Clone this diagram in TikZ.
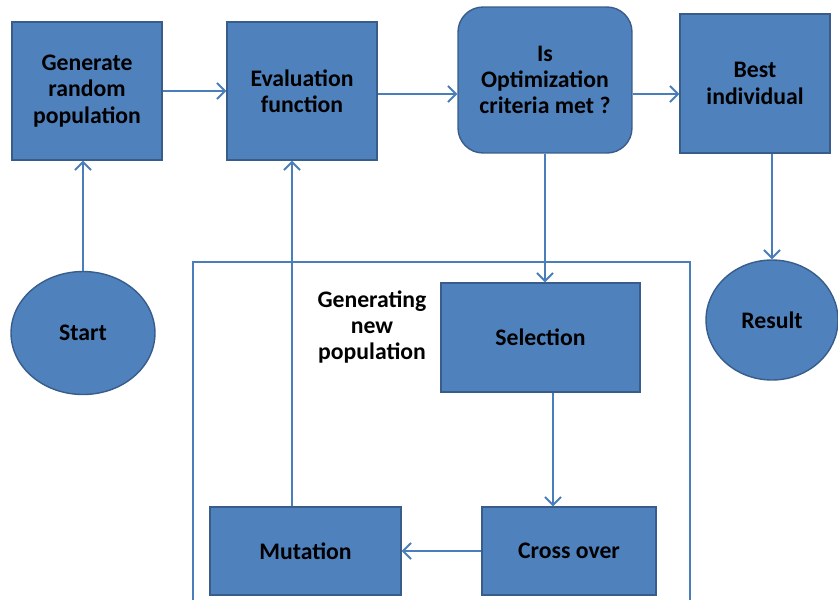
\documentclass[tikz,border=0pt]{standalone}
\usepackage{fontspec}
\setmainfont{Carlito}
\usetikzlibrary{arrows.meta,positioning,shapes.geometric}
\definecolor{azul}{RGB}{79,129,189}
\definecolor{azulos}{RGB}{56,93,138}
\definecolor{linea}{RGB}{74,126,187}
\tikzset{
  caja/.style={draw=azulos, fill=azul, line width=0.8pt, align=center, inner sep=2pt, font=\bfseries\fontsize{13.5}{15}\selectfont},
  cajar/.style={caja, rounded corners=0.5cm},
  elip/.style={caja, ellipse},
  fl/.style={-{Straight Barb[length=1.6mm,width=3.2mm]}, line width=1.1pt, linea},
  marco/.style={linea, line width=0.9pt},
  et/.style={align=center, font=\bfseries\fontsize{13.5}{15}\selectfont},
}

\begin{document}
\begin{tikzpicture}[x=0.02cm, y=-0.02cm]
  \useasboundingbox (0,0) rectangle (838,600);
  % top row
  \node[caja, minimum width=3cm, minimum height=2.76cm] (gen) at (87,91) {Generate\\ random\\ population};
  \node[caja, minimum width=3cm, minimum height=2.76cm] (eval) at (302,91) {Evaluation\\ function};
  \node[cajar, minimum width=3.48cm, minimum height=2.92cm] (opt) at (545,80) {Is\\ Optimization\\ criteria met ?};
  \node[caja, minimum width=3cm, minimum height=2.78cm] (best) at (755,83.5) {Best\\ individual};
  \node[elip, minimum width=2.88cm, minimum height=2.46cm] (start) at (83,333) {Start};
  \node[elip, minimum width=2.64cm, minimum height=2.4cm] (res) at (772,320) {Result};
  % new population
  \draw[marco] (193,600) |- (690,262) -- (690,600);
  \node[et] (lbl) at (372,327) {Generating\\ new\\ population};
  \node[caja, minimum width=3.98cm, minimum height=2.18cm] (sel) at (540.5,337.5) {Selection};
  \node[caja, minimum width=3.48cm, minimum height=1.76cm] (cross) at (569,551) {Cross over};
  \node[caja, minimum width=3.82cm, minimum height=1.76cm] (mut) at (305.5,551) {Mutation};
  % arrows
  \draw[fl] (gen.east) -- (eval.west);
  \draw[fl] ([yshift=-0.06cm]eval.east) -- ([yshift=-0.06cm]eval.east -| opt.west);
  \draw[fl] ([yshift=-0.06cm]opt.east |- eval.east) -- ([yshift=-0.06cm]eval.east -| best.west);
  \draw[fl] (start.north) -- (start.north |- gen.south);
  \draw[fl] ([xshift=-0.2cm]eval.south |- mut.north) -- ([xshift=-0.2cm]eval.south);
  \draw[fl] (opt.south) -- (opt.south |- sel.north);
  \draw[fl] ([xshift=0.25cm]sel.south) -- ([xshift=0.25cm]sel.south |- cross.north);
  \draw[fl] (cross.west) -- (mut.east);
  \draw[fl] (best.south -| res.north) -- (res.north);
\end{tikzpicture}
\end{document}
